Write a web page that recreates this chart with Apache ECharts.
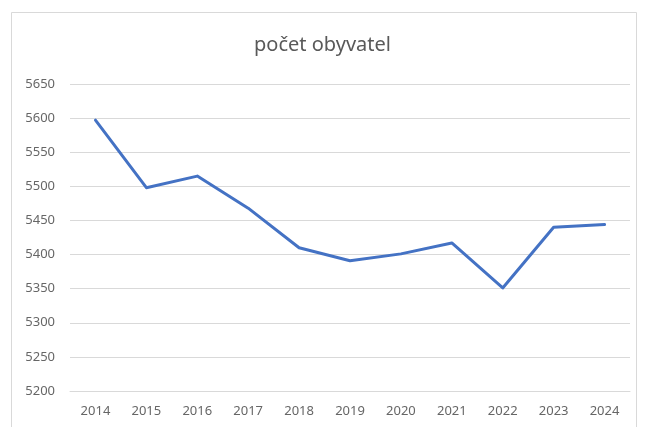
<!DOCTYPE html>
<html>
<head>
<meta charset="utf-8">
<script src="https://cdn.jsdelivr.net/npm/echarts@6/dist/echarts.min.js"></script>
<style>html,body{margin:0;padding:0;background:#fff;}#c{width:645px;height:427px;}</style>
</head>
<body>
<div id="c"></div>
<script>
const titleText = 'počet obyvatel';
const years = ['2014','2015','2016','2017','2018','2019','2020','2021','2022','2023','2024'];
const population = [5597, 5498, 5515, 5468, 5410, 5391, 5401, 5417, 5351, 5440, 5444];
const yMin = 5200, yMax = 5650, yStep = 50;

const chart = echarts.init(document.getElementById('c'));
chart.setOption({
  backgroundColor: '#ffffff',
  animation: false,
  graphic: [{
    type: 'rect', shape: { x: 11.5, y: 12.5, width: 625, height: 430 },
    style: { fill: 'none', stroke: '#d9d9d9', lineWidth: 1 }, silent: true
  }],
  title: {
    text: titleText, left: 'center', top: 30,
    textStyle: { fontFamily: 'Noto Sans', fontSize: 20, fontWeight: 'normal', color: '#595959' }
  },
  grid: { left: 70, right: 15, top: 84, bottom: 36, containLabel: false },
  xAxis: {
    type: 'category', data: years, boundaryGap: true,
    axisLine: { show: true, lineStyle: { color: '#d9d9d9', width: 1 } },
    axisTick: { show: false },
    axisLabel: { fontFamily: 'Noto Sans', fontSize: 13, color: '#666666', margin: 14 }
  },
  yAxis: {
    type: 'value', min: yMin, max: yMax, interval: yStep,
    axisLine: { show: false }, axisTick: { show: false },
    axisLabel: { fontFamily: 'Noto Sans', fontSize: 13, color: '#666666', margin: 15,
                 formatter: function (v) { return String(v); } },
    splitLine: { lineStyle: { color: '#d9d9d9', width: 1 } }
  },
  series: [{
    type: 'line', data: population, showSymbol: false, symbol: 'none', smooth: false,
    lineStyle: { color: '#4472C4', width: 3, cap: 'round', join: 'round' }
  }]
});
</script>
</body>
</html>
